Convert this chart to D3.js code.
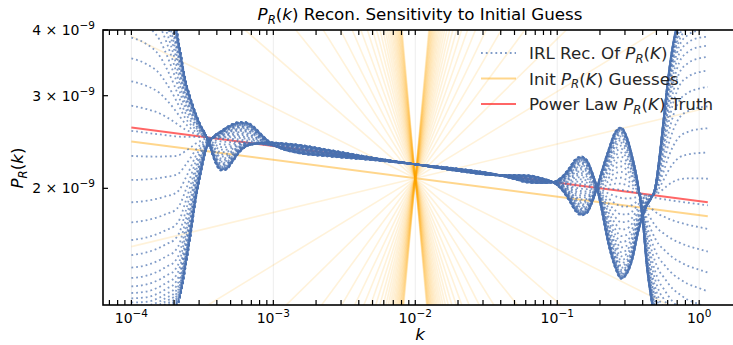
<!DOCTYPE html>
<html>
<head>
<meta charset="utf-8">
<script src="https://cdn.jsdelivr.net/npm/d3@7"></script>
<style>
  body { margin: 0; background: #fff; }
  svg { font-family: "DejaVu Sans", sans-serif; }
</style>
</head>
<body>
<svg id="chart" width="733" height="345"></svg>
<script>
// ---- values ----
const kRange = [1e-4, 1.15];
const truthAmp = 2.1e-9;      // P_R at the truth pivot
const truthPivot = 0.05;
const truthTilt = -0.035;     // n_s - 1
const guessAmp = 2.09e-9;     // all guesses cross here
const guessPivot = 0.01;
// tilt of each initial guess, relative to the truth tilt
const guessTilts = [
  -3.0, -2.9, -2.8, -2.7, -2.6, -2.5, -2.4, -2.3, -2.2, -2.1,
  -2.0, -1.9, -1.8, -1.7, -1.6, -1.5, -1.4, -1.3, -1.2, -1.1,
  -1.0, -0.9, -0.8, -0.7, -0.6, -0.5, -0.4, -0.3, -0.2, -0.1,
  0.0,
  0.1, 0.2, 0.3, 0.4, 0.5, 0.6, 0.7, 0.8, 0.9, 1.0,
  1.1, 1.2, 1.3, 1.4, 1.5, 1.6, 1.7, 1.8, 1.9, 2.0,
  2.1, 2.2, 2.3, 2.4, 2.5, 2.6, 2.7, 2.8, 2.9, 3.0
];
const highlightTilt = 0.0;

// reconstruction: how much of the (guess - truth) offset survives, per log10 k
const reconLogK = [
  -4.00, -3.90, -3.80, -3.75, -3.70, -3.66, -3.62, -3.585, -3.55, -3.515,
  -3.48, -3.445, -3.41, -3.37, -3.33, -3.29, -3.24, -3.19, -3.14, -3.09,
  -3.03, -2.95, -2.85, -2.60, -2.30, -2.00, -1.70, -1.40, -1.30, -1.20,
  -1.10, -1.03, -0.97, -0.92, -0.87, -0.83, -0.79, -0.755, -0.72, -0.69,
  -0.64, -0.59, -0.55, -0.51, -0.47, -0.43, -0.40, -0.37, -0.34, -0.31,
  -0.28, -0.25, -0.22, -0.18, -0.14, -0.08, 0.00, 0.061
];
const reconGainUp = [
  0.24, 0.24, 0.22, 0.19, 0.15, 0.11, 0.07, 0.048, 0.03, 0.015,
  0.004, -0.012, -0.030, -0.040, -0.038, -0.028, -0.014, -0.005, -0.001, 0.002,
  0.004, 0.005, 0.006, 0.005, 0.003, 0.001, 0.003, 0.0, -0.003, -0.005,
  -0.003, 0.0, 0.008, 0.020, 0.034, 0.038, 0.034, 0.020, 0.0, -0.025,
  -0.070, -0.100, -0.112, -0.105, -0.085, -0.050, -0.030, -0.015, -0.005, 0.010,
  0.05, 0.10, 0.15, 0.20, 0.23, 0.245, 0.25, 0.25
];
const reconGainDown = [
  0.24, 0.24, 0.235, 0.23, 0.225, 0.21, 0.17, 0.13, 0.085, 0.05,
  0.02, 0.004, -0.004, -0.010, -0.016, -0.021, -0.025, -0.026, -0.022, -0.014,
  -0.005, 0.002, 0.005, 0.005, 0.003, 0.001, 0.003, 0.0, -0.003, -0.005,
  -0.003, 0.0, 0.008, 0.020, 0.034, 0.038, 0.034, 0.020, 0.0, -0.020,
  -0.050, -0.075, -0.081, -0.070, -0.045, -0.010, 0.03, 0.09, 0.13, 0.16,
  0.18, 0.19, 0.20, 0.21, 0.215, 0.22, 0.22, 0.22
];
const reconSaturation = 1.5;  // largest log10 offset a reconstruction keeps

const yTickValues = [2e-9, 3e-9, 4e-9];
const yTickMantissa = ["2", "3", "4"];
const xMajorValues = [1e-4, 1e-3, 1e-2, 1e-1, 1];
const xMajorExponents = ["\u22124", "\u22123", "\u22122", "\u22121", "0"];

// ---- layout ----
const svg = d3.select("#chart");
const axL = 103, axR = 737, axT = 30, axB = 305;
const bigFont = 16.7, tickFont = 14;

const x = d3.scaleLog().domain([Math.pow(10, -4.2), Math.pow(10, 0.2665)]).range([axL, axR]);
const y = d3.scaleLog().domain([1.2e-9, 4e-9]).range([axB, axT]);

const truth = k => truthAmp * Math.pow(k / truthPivot, truthTilt);
const guess = (k, t) => guessAmp * Math.pow(k / guessPivot, truthTilt + t);

svg.append("clipPath").attr("id", "plotclip")
  .append("rect").attr("x", axL).attr("y", axT)
  .attr("width", axR - axL).attr("height", axB - axT);

// vertical grid on decades
svg.append("g").selectAll("line").data(xMajorValues).enter().append("line")
  .attr("x1", d => x(d)).attr("x2", d => x(d))
  .attr("y1", axT).attr("y2", axB)
  .attr("stroke", "#e8e8e8").attr("stroke-width", 0.8);

const plot = svg.append("g").attr("clip-path", "url(#plotclip)");
const line = d3.line().x(d => x(d.k)).y(d => y(d.p));

// initial guesses
plot.append("g").selectAll("path")
  .data(guessTilts.filter(t => t !== highlightTilt)).enter().append("path")
  .attr("d", t => line(kRange.map(k => ({ k, p: guess(k, t) }))))
  .attr("fill", "none").attr("stroke", "orange")
  .attr("stroke-opacity", 0.15).attr("stroke-width", 1.6);
plot.append("path")
  .attr("d", line(kRange.map(k => ({ k, p: guess(k, highlightTilt) }))))
  .attr("fill", "none").attr("stroke", "orange")
  .attr("stroke-opacity", 0.45).attr("stroke-width", 2);

// truth
plot.append("path")
  .attr("d", line(kRange.map(k => ({ k, p: truth(k) }))))
  .attr("fill", "none").attr("stroke", "red")
  .attr("stroke-opacity", 0.6).attr("stroke-width", 2);

// reconstructions
const recon = guessTilts.map(t => reconLogK.map((lk, j) => {
  const k = Math.pow(10, lk);
  const dev = Math.log10(guess(k, t) / truth(k));
  const gain = dev >= 0 ? reconGainUp[j] : reconGainDown[j];
  const kept = reconSaturation * Math.tanh(dev / reconSaturation);
  return { k, p: truth(k) * Math.pow(10, gain * kept) };
}));
const smooth = d3.line().x(d => x(d.k)).y(d => y(d.p)).curve(d3.curveMonotoneX);
plot.append("g").selectAll("path").data(recon).enter().append("path")
  .attr("d", smooth)
  .attr("fill", "none").attr("stroke", "#4c72b0")
  .attr("stroke-opacity", 0.7).attr("stroke-width", 1.8)
  .attr("stroke-dasharray", "1.8 3.0");

// ---- axes ----
const axes = svg.append("g").attr("stroke", "#000");
const xMinor = [];
for (let d = -5; d <= 0; d++) for (let m = 2; m <= 9; m++) {
  const v = m * Math.pow(10, d);
  if (x(v) >= axL && x(v) <= axR) xMinor.push(v);
}
const xAllTicks = xMajorValues.concat(xMinor);
axes.selectAll(".xb").data(xAllTicks).enter().append("line")
  .attr("x1", d => x(d)).attr("x2", d => x(d))
  .attr("y1", axB).attr("y2", axB - 5).attr("stroke-width", 1.2);
axes.selectAll(".xt").data(xAllTicks).enter().append("line")
  .attr("x1", d => x(d)).attr("x2", d => x(d))
  .attr("y1", axT).attr("y2", axT + 5).attr("stroke-width", 1.2);
axes.selectAll(".yl").data(yTickValues).enter().append("line")
  .attr("x1", axL).attr("x2", axL + 5)
  .attr("y1", d => y(d)).attr("y2", d => y(d)).attr("stroke-width", 1.2);
axes.append("rect").attr("x", axL).attr("y", axT)
  .attr("width", axR - axL).attr("height", axB - axT)
  .attr("fill", "none").attr("stroke-width", 1.6);

const xl = svg.append("g").selectAll("text").data(xMajorValues).enter().append("text")
  .attr("x", d => x(d)).attr("y", 323).attr("text-anchor", "middle")
  .attr("font-size", tickFont);
xl.append("tspan").text("10");
xl.append("tspan").attr("dy", -6).attr("font-size", 10.5).text((d, i) => xMajorExponents[i]);

const yl = svg.append("g").selectAll("text").data(yTickValues).enter().append("text")
  .attr("x", 95).attr("y", d => y(d) + 5).attr("text-anchor", "end")
  .attr("font-size", tickFont);
yl.append("tspan").text((d, i) => yTickMantissa[i] + " \u00d7 10");
yl.append("tspan").attr("dy", -6).attr("font-size", 10.5).text("\u22129");

// math label helper: P_R(k)
function pr(sel, letter) {
  sel.append("tspan").attr("font-style", "italic").text("P");
  sel.append("tspan").attr("font-style", "italic").attr("font-size", "0.7em").attr("dy", 3.5).text("R");
  sel.append("tspan").attr("dy", -3.5).text("(");
  sel.append("tspan").attr("font-style", "italic").text(letter);
  sel.append("tspan").text(")");
}

const title = svg.append("text").attr("x", 420).attr("y", 20)
  .attr("text-anchor", "middle").attr("font-size", bigFont);
pr(title, "k");
title.append("tspan").text(" Recon. Sensitivity to Initial Guess");

svg.append("text").attr("x", 420).attr("y", 340).attr("text-anchor", "middle")
  .attr("font-size", bigFont).attr("font-style", "italic").text("k");

const ylab = svg.append("text").attr("transform", "translate(23,168) rotate(-90)")
  .attr("text-anchor", "middle").attr("font-size", bigFont);
pr(ylab, "k");

// ---- legend ----
const legendRows = [
  { label: "IRL Rec. Of ", stroke: "#4c72b0", opacity: 0.7, dash: "1.8 3.0", w: 1.8 },
  { label: "Init ", tail: " Guesses", stroke: "orange", opacity: 0.45, dash: null, w: 2 },
  { label: "Power Law ", tail: " Truth", stroke: "red", opacity: 0.6, dash: null, w: 2 }
];
const lg = svg.append("g");
legendRows.forEach((r, i) => {
  const ry = 53 + i * 25.5;
  lg.append("line").attr("x1", 481).attr("x2", 516).attr("y1", ry).attr("y2", ry)
    .attr("stroke", r.stroke).attr("stroke-opacity", r.opacity)
    .attr("stroke-width", r.w).attr("stroke-dasharray", r.dash);
  const t = lg.append("text").attr("x", 529).attr("y", ry + 6).attr("font-size", bigFont)
    .attr("fill", "#262626");
  t.append("tspan").text(r.label);
  pr(t, "K");
  if (r.tail) t.append("tspan").text(r.tail);
});
</script>
</body>
</html>
